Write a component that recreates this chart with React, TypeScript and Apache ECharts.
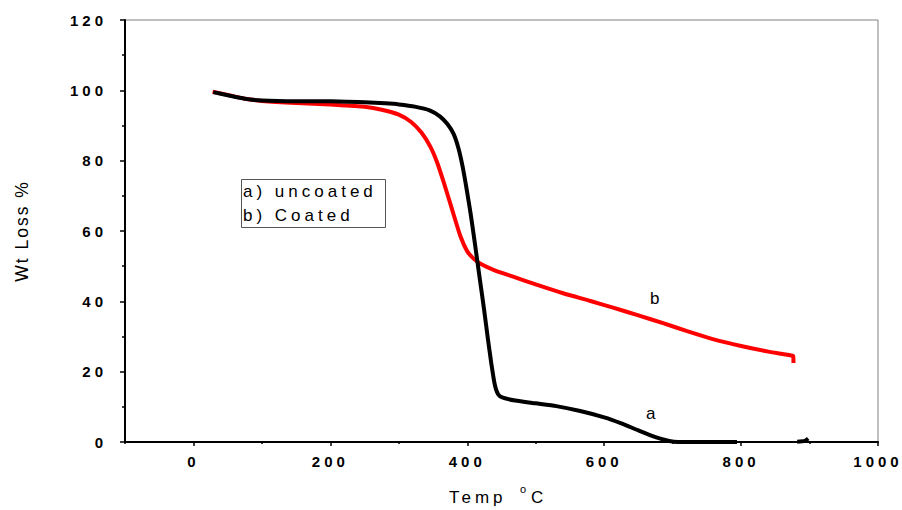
import React, { useEffect, useRef } from "react";
import * as echarts from "echarts";

const xMajorTicks = [0, 200, 400, 600, 800, 1000];
const xMinorTicks = [-100, 100, 300, 500, 700, 900];

// a) uncoated (black)
const uncoated: (number | string)[][] = [
  [29, 99.5], [50, 98.6], [75, 97.6], [100, 97.1], [150, 96.9], [200, 96.9],
  [250, 96.6], [280, 96.3], [300, 96.0], [325, 95.3], [345, 94.3], [360, 92.6],
  [371, 90.4], [380, 87.6], [387, 83.6], [393, 78.5], [399, 72.0], [405, 64.8],
  [410, 58], [415, 51], [420, 44], [425, 37], [430, 29.5], [435, 22.5],
  [440, 16.5], [445, 13.6], [452, 12.6], [470, 11.8], [500, 11.0], [530, 10.2],
  [565, 8.8], [600, 7.0], [625, 5.3], [650, 3.3], [675, 1.4], [695, 0.3],
  [708, 0], [794, 0], [840, "-"], [882, 0.1], [893, 0.3], [898, 1.0],
];

// b) Coated (red)
const coated: (number | string)[][] = [
  [28, 99.6], [50, 98.7], [75, 97.6], [100, 97.0], [150, 96.4], [200, 96.0],
  [250, 95.3], [275, 94.5], [300, 93.1], [318, 91.0], [333, 88.0], [346, 84.0],
  [356, 79.5], [366, 73.6], [378, 66], [390, 58.5], [400, 54.2], [410, 52.0],
  [420, 50.6], [440, 48.8], [467, 47.0], [500, 44.8], [540, 42.3], [580, 40.1],
  [613, 38.2], [650, 36.0], [686, 33.8], [720, 31.6], [760, 29.2], [800, 27.3],
  [840, 25.7], [873, 24.6], [876, 24.5], [876.5, 22.5],
];

const legendLines = ["a) uncoated", "b) Coated"];
const curveLabels = [
  { name: "a", coord: [668, 8.2] },
  { name: "b", coord: [674, 40.9] },
];

const SPACED = "Arial";
const PLAIN = "Liberation Sans";

export default function App() {
  const ref = useRef<HTMLDivElement>(null);

  useEffect(() => {
    document.body.style.margin = "0";
    if (!ref.current) return;
    const chart = echarts.init(ref.current, undefined, { renderer: "svg" });

    const labelStyle = {
      color: "#000",
      fontWeight: "bold" as const,
      fontSize: 15,
      fontFamily: SPACED,
    };

    chart.setOption({
      animation: false,
      backgroundColor: "#fff",
      grid: {
        left: 125,
        right: 24,
        top: 20,
        bottom: 68,
        show: true,
        borderColor: "#808080",
        borderWidth: 1,
        backgroundColor: "transparent",
      },
      xAxis: [
        {
          type: "value",
          min: -100,
          max: 1000,
          position: "bottom",
          axisLine: { show: true, onZero: false, lineStyle: { color: "#000", width: 2 } },
          axisTick: {
            show: true,
            customValues: xMajorTicks,
            length: 4,
            lineStyle: { color: "#000", width: 1.5 },
          },
          axisLabel: {
            ...labelStyle,
            customValues: xMajorTicks,
            margin: 12,
            formatter: (v: number) => String(v),
          },
          splitLine: { show: false },
        },
        {
          type: "value",
          min: -100,
          max: 1000,
          position: "bottom",
          axisLine: { show: false, onZero: false },
          axisTick: {
            show: true,
            customValues: xMinorTicks,
            length: 2,
            lineStyle: { color: "#000", width: 1.5 },
          },
          axisLabel: { show: false },
          splitLine: { show: false },
        },
      ],
      yAxis: {
        type: "value",
        min: 0,
        max: 120,
        interval: 20,
        name: "Wt Loss %",
        nameLocation: "middle",
        nameGap: 94,
        nameTextStyle: { color: "#000", fontSize: 17.5, fontFamily: PLAIN },
        axisLine: { show: true, onZero: false, lineStyle: { color: "#000", width: 2 } },
        axisTick: { show: true, length: 5, lineStyle: { color: "#000", width: 1.5 } },
        minorTick: { show: true, splitNumber: 2, length: 3, lineStyle: { color: "#000", width: 1.5 } },
        axisLabel: { ...labelStyle, margin: 18, formatter: (v: number) => String(v) },
        splitLine: { show: false },
        minorSplitLine: { show: false },
      },
      graphic: [
        {
          type: "rect",
          shape: { x: 241.5, y: 179.5, width: 144, height: 48 },
          style: { fill: "#fff", stroke: "#555", lineWidth: 1 },
          z: 10,
        },
        {
          type: "text",
          x: 243,
          y: 191,
          style: {
            text: legendLines[0],
            fill: "#000",
            font: `17px ${SPACED}`,
            textVerticalAlign: "middle",
          },
          z: 11,
        },
        {
          type: "text",
          x: 243,
          y: 215,
          style: {
            text: legendLines[1],
            fill: "#000",
            font: `17px ${SPACED}`,
            textVerticalAlign: "middle",
          },
          z: 11,
        },
        {
          type: "text",
          x: 449,
          y: 497,
          style: { text: "Temp", fill: "#000", font: `17px ${SPACED}`, textVerticalAlign: "middle" },
        },
        {
          type: "text",
          x: 520,
          y: 489,
          style: { text: "o", fill: "#000", font: `11px ${PLAIN}`, textVerticalAlign: "middle" },
        },
        {
          type: "text",
          x: 531,
          y: 497,
          style: { text: "C", fill: "#000", font: `17px ${PLAIN}`, textVerticalAlign: "middle" },
        },
      ],
      series: [
        {
          name: "b) Coated",
          type: "line",
          xAxisIndex: 0,
          data: coated,
          showSymbol: false,
          smooth: 0.2,
          lineStyle: { color: "#ff0000", width: 4 },
          itemStyle: { color: "#ff0000" },
          markPoint: {
            symbol: "circle",
            symbolSize: 0,
            label: {
              show: true,
              position: "inside",
              formatter: (p: any) => p.name,
              color: "#000",
              fontSize: 17,
              fontFamily: PLAIN,
            },
            data: curveLabels.map((c) => ({ name: c.name, coord: c.coord })),
          },
        },
        {
          name: "a) uncoated",
          type: "line",
          xAxisIndex: 0,
          data: uncoated,
          showSymbol: false,
          smooth: 0.2,
          connectNulls: false,
          lineStyle: { color: "#000", width: 4 },
          itemStyle: { color: "#000" },
        },
      ],
    });

    return () => chart.dispose();
  }, []);

  return (
    <>
      <style>{`
        #chart text[style*="Arial"], #chart text[font-family*="Arial"] { letter-spacing: 4px; }
        #chart text[style*="17.5px"], #chart text[font-size*="17.5"] { letter-spacing: 2px; }
      `}</style>
      <div id="chart" ref={ref} style={{ width: 902, height: 510 }} />
    </>
  );
}
